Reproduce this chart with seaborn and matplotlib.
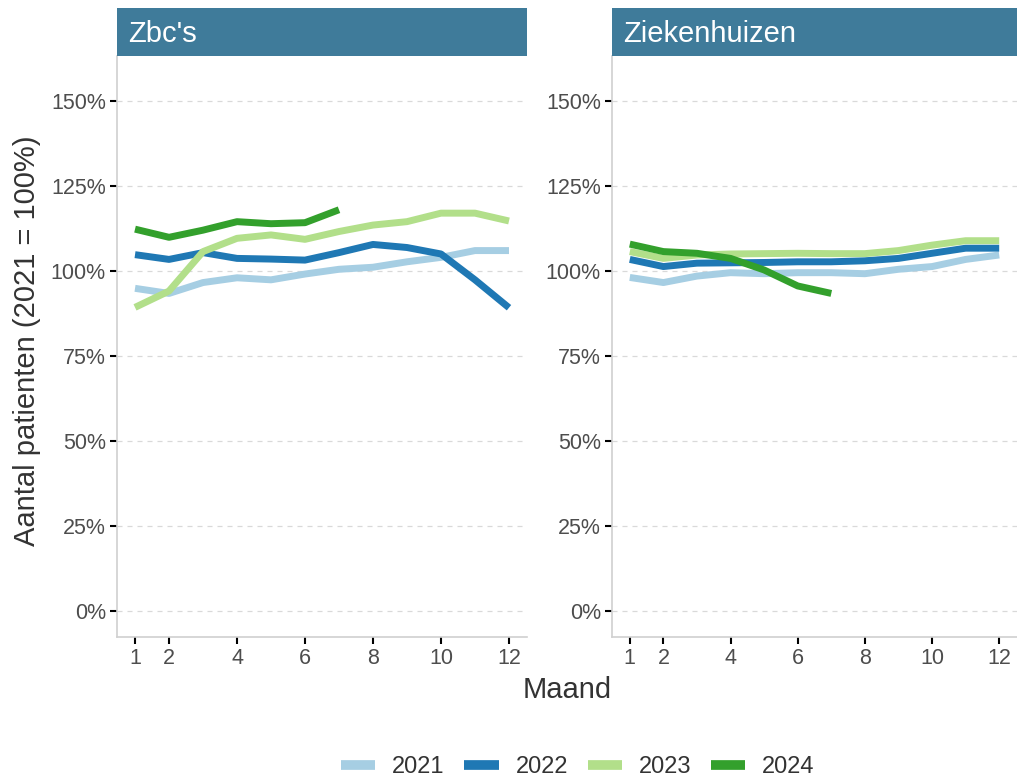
import numpy as np
import pandas as pd
import seaborn as sns
import matplotlib
import matplotlib.pyplot as plt
from matplotlib.lines import Line2D

sns.set_style('white')
plt.rcParams['font.family'] = ['Liberation Sans', 'DejaVu Sans']

months = list(range(1, 13))
years = ['2021', '2022', '2023', '2024']
panels = ["Zbc's", 'Ziekenhuizen']

# index (2021 = 100%)
zbc_2021 = [94.9, 93.4, 96.6, 98.0, 97.4, 99.1, 100.5, 101.1, 102.7, 104.0, 106.0, 106.0]
zbc_2022 = [104.8, 103.4, 105.4, 103.7, 103.5, 103.2, 105.4, 107.8, 106.9, 105.0, 97.4, 89.2]
zbc_2023 = [89.3, 94.1, 105.7, 109.6, 110.6, 109.3, 111.6, 113.5, 114.5, 117.0, 117.0, 114.7]
zbc_2024 = [112.3, 109.9, 112.0, 114.5, 113.9, 114.2, 118.0]

zkh_2021 = [98.1, 96.6, 98.5, 99.5, 99.2, 99.5, 99.5, 99.2, 100.5, 101.3, 103.4, 104.7]
zkh_2022 = [103.4, 101.3, 102.3, 102.4, 102.5, 102.7, 102.7, 103.0, 103.7, 105.2, 106.7, 106.7]
zkh_2023 = [105.7, 103.7, 104.7, 105.0, 105.1, 105.2, 105.1, 105.1, 106.0, 107.6, 108.9, 108.9]
zkh_2024 = [107.9, 105.7, 105.2, 103.7, 100.3, 95.6, 93.4]

series = {
    "Zbc's": [zbc_2021, zbc_2022, zbc_2023, zbc_2024],
    'Ziekenhuizen': [zkh_2021, zkh_2022, zkh_2023, zkh_2024],
}

rows = []
for panel in panels:
    for year, vals in zip(years, series[panel]):
        for m, v in zip(months, vals):
            rows.append({'panel': panel, 'jaar': year, 'maand': m, 'index': v / 100})
df = pd.DataFrame(rows)

colours = dict(zip(years, ['#A6CEE3', '#1F78B4', '#B2DF8A', '#33A02C']))
strip_colour = '#3F7B9A'
grid_colour = '#D9D9D9'
spine_colour = '#D0D0D0'

fig = plt.figure(figsize=(10.17, 7.8), dpi=100)

panel_boxes = [(117 / 1017, 527 / 1017), (612 / 1017, 1017 / 1017)]
y0, y1 = 1 - 637 / 780, 1 - 56 / 780
strip_h = 48 / 780

for panel, (x0, x1) in zip(panels, panel_boxes):
    ax = fig.add_axes([x0, y0, x1 - x0, y1 - y0])
    sns.lineplot(data=df[df['panel'] == panel], x='maand', y='index',
                 hue='jaar', palette=colours, linewidth=5,
                 legend=False, ax=ax, solid_capstyle='butt')
    ax.set_xlim(0.47, 12.53)
    ax.set_ylim(-0.076, 1.632)
    ax.set_xticks([1, 2, 4, 6, 8, 10, 12])
    ax.set_yticks(np.arange(0, 1.51, 0.25))
    ax.yaxis.set_major_formatter(matplotlib.ticker.PercentFormatter(1.0, decimals=0))
    ax.yaxis.grid(True, color=grid_colour, linestyle=(0, (4, 4)), linewidth=0.9)
    ax.set_axisbelow(True)
    for side in ['top', 'right']:
        ax.spines[side].set_visible(False)
    for side in ['left', 'bottom']:
        ax.spines[side].set_color(spine_colour)
        ax.spines[side].set_linewidth(1.2)
    ax.tick_params(axis='both', length=5, width=1.5, color='black',
                   labelsize=15.5, labelcolor='#4D4D4D', pad=3,
                   left=True, bottom=True)
    ax.set_xlabel('')
    ax.set_ylabel('')

    strip = fig.add_axes([x0, y1, x1 - x0, strip_h])
    strip.set_facecolor(strip_colour)
    strip.set_xticks([])
    strip.set_yticks([])
    for s in strip.spines.values():
        s.set_visible(False)
    strip.text(11 / (x1 - x0) / 1017, 0.46, panel, transform=strip.transAxes,
               color='white', fontsize=21, ha='left', va='center')

fig.text(567 / 1017, 1 - 690 / 780, 'Maand', ha='center', va='center',
         fontsize=21, color='#333333')
fig.text(27 / 1017, 1 - 341 / 780, 'Aantal patienten (2021 = 100%)',
         rotation=90, ha='center', va='center', fontsize=21, color='#333333')

handles = [Line2D([0], [0], color=colours[y], linewidth=7, solid_capstyle='butt')
           for y in years]
fig.legend(handles, years, loc='center', bbox_to_anchor=(578 / 1017, 1 - 767 / 780),
           ncol=4, frameon=False, fontsize=17, handlelength=1.45,
           handletextpad=0.72, columnspacing=0.83,
           labelcolor='#333333')

plt.savefig('out.png', dpi=100)
